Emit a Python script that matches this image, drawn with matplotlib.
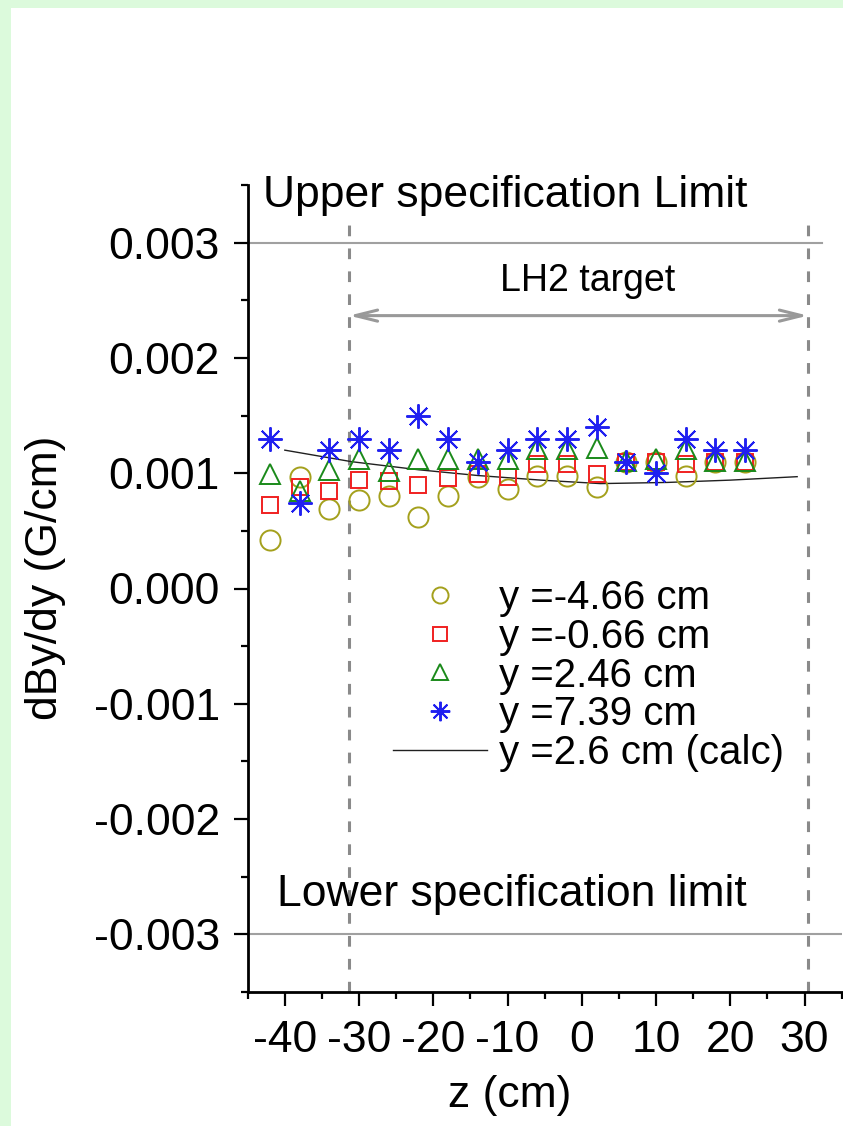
import matplotlib
matplotlib.use("Agg")
import matplotlib.pyplot as plt
from matplotlib.patches import Rectangle
import numpy as np

plt.rcParams['font.family'] = ['Liberation Sans', 'DejaVu Sans']

# ---- data ----
z = [-42, -38, -34, -30, -26, -22, -18, -14, -10, -6, -2, 2, 6, 10, 14, 18, 22]
y_m466 = [0.00042, 0.00097, 0.00069, 0.00077, 0.00080, 0.00062, 0.00080, 0.00097, 0.00086,
          0.00098, 0.00098, 0.00088, 0.00110, 0.00110, 0.00098, 0.00110, 0.00110]
y_m066 = [0.00072, 0.00088, 0.00085, 0.00094, 0.00093, 0.00090, 0.00096, 0.00099, 0.00097,
          0.00108, 0.00108, 0.00099, 0.00110, 0.00110, 0.00108, 0.00110, 0.00110]
y_246 = [0.00099, 0.00085, 0.00103, 0.00112, 0.00102, 0.00112, 0.00112, 0.00112, 0.00112,
         0.00121, 0.00121, 0.00122, 0.00111, 0.00112, 0.00121, 0.00111, 0.00111]
y_739 = [0.00130, 0.00074, 0.00120, 0.00130, 0.00120, 0.00150, 0.00130, 0.00110, 0.00120,
         0.00130, 0.00130, 0.00140, 0.00110, 0.00100, 0.00130, 0.00120, 0.00120]
z_calc = [-40, -31, -22, -14, -5.5, 2.5, 11.5, 20, 29]
y_calc = [0.00120, 0.00110, 0.00103, 0.00098, 0.00094, 0.00091, 0.00092, 0.00094, 0.00097]

labels = ['y =-4.66 cm', 'y =-0.66 cm', 'y =2.46 cm', 'y =7.39 cm', 'y =2.6 cm (calc)']
x_ticks = [-40, -30, -20, -10, 0, 10, 20, 30]
y_ticks = [-0.003, -0.002, -0.001, 0.000, 0.001, 0.002, 0.003]
upper_limit = 0.003
lower_limit = -0.003
target_z = [-31.35, 30.45]

W, H = 843, 1126
fig = plt.figure(figsize=(W / 100, H / 100), dpi=100, facecolor='#dcfadc')
fig.patches.append(Rectangle((11 / W, 0), 1 - 11 / W, 1 - 8 / H, transform=fig.transFigure,
                             facecolor='white', edgecolor='none', zorder=-10))

ax = fig.add_axes([247.7 / W, 1 - 992 / H, (841.7 - 247.7) / W, (992 - 185) / H])
ax.set_facecolor('none')
ax.set_xlim(-45, 35)
ax.set_ylim(-0.0035, 0.0035)

# spec limits
ax.plot([-45, 32.4], [upper_limit, upper_limit], color='#a0a0a0', lw=1.5, zorder=1)
ax.plot([-45, 35], [lower_limit, lower_limit], color='#a0a0a0', lw=1.5, zorder=1)
# target dashed lines
for tz in target_z:
    ax.plot([tz, tz], [-0.0035, 0.00325], color='#8a8a8a', lw=2.2, dashes=(3.5, 4), zorder=1)
ax.annotate('', xy=(target_z[1], 0.002367), xytext=(target_z[0], 0.002367),
            arrowprops=dict(arrowstyle='<->,head_length=1.6,head_width=0.4', color='#999999', lw=2.2,
                            shrinkA=0, shrinkB=0))
ax.text(0.8, 0.00267, 'LH2 target', fontsize=27, ha='center', va='center')
ax.text(-42.9, 0.00331, 'Upper specification Limit', fontsize=32, ha='left', va='baseline')
ax.text(-41.0, -0.00275, 'Lower specification limit', fontsize=32, ha='left', va='baseline')

ax.plot(z, y_m466, linestyle='none', marker='o', ms=14.5, mfc='none', mec='#a4a01c', mew=1.4,
        label=labels[0], zorder=3)
ax.plot(z, y_m066, linestyle='none', marker='s', ms=12, mfc='none', mec='#f02020', mew=1.4,
        label=labels[1], zorder=3)
ax.plot(z, y_246, linestyle='none', marker='^', ms=15, mfc='none', mec='#1a8a1a', mew=1.4,
        label=labels[2], zorder=3)
ax.plot(z, y_739, linestyle='none', marker=(8, 2, 0), ms=17.5, mfc='none', mec='#2020f0', mew=1.4,
        label=labels[3], zorder=3)
ax.plot(z_calc, y_calc, color='#202020', lw=1.0, label=labels[4], zorder=2)

leg = ax.legend(loc='upper left', bbox_to_anchor=(0.244, 0.512), frameon=False, fontsize=29,
                handlelength=2.35, handletextpad=0.3, labelspacing=0.022, borderpad=0,
                borderaxespad=0, markerscale=0.8)

ax.set_xticks(x_ticks)
ax.set_xticklabels([str(v) for v in x_ticks])
ax.set_yticks(y_ticks)
ax.set_yticklabels(['%.3f' % v for v in y_ticks])
ax.set_xticks(np.arange(-45, 36, 10), minor=True)
ax.set_yticks(np.arange(-0.0035, 0.0036, 0.001), minor=True)
ax.tick_params(which='major', direction='out', length=10, width=1.6, labelsize=32)
ax.tick_params(axis='x', which='major', pad=10)
ax.tick_params(axis='y', which='major', pad=10)
ax.tick_params(which='minor', direction='out', length=5, width=1.6)
for s in ['top', 'right']:
    ax.spines[s].set_visible(False)
for s in ['left', 'bottom']:
    ax.spines[s].set_linewidth(2.0)

ax.set_xlabel('z (cm)', fontsize=32)
ax.set_ylabel('dBy/dy (G/cm)', fontsize=32)
ax.xaxis.set_label_coords((510 - 247.7) / 594, -(1096 - 992) / 807)
ax.yaxis.set_label_coords(-(247.7 - 45) / 594, (992 - 578) / 807)
ax.xaxis.label.set_va('center')
ax.yaxis.label.set_va('center')

fig.savefig('out.png', dpi=100, facecolor=fig.get_facecolor())
